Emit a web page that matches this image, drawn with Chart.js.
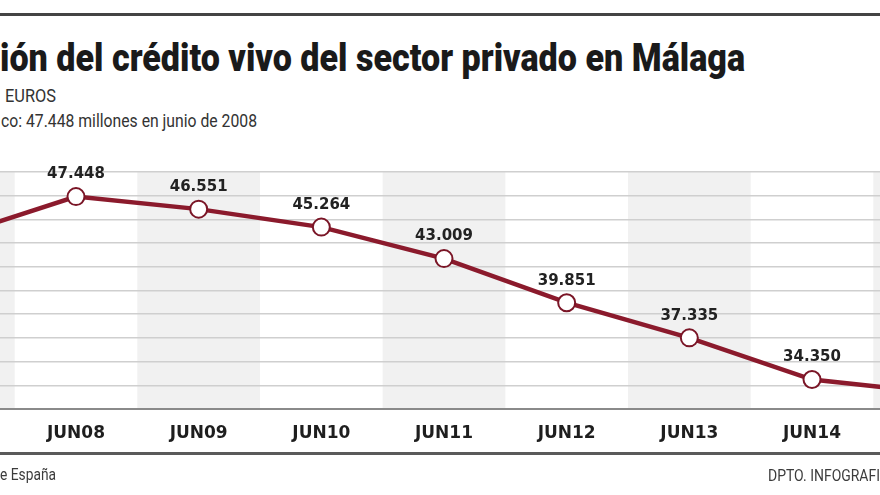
<!DOCTYPE html>
<html>
<head>
<meta charset="utf-8">
<script src="https://cdn.jsdelivr.net/npm/chart.js@4"></script>
<style>
  html, body { margin: 0; padding: 0; background: #fff; }
  body { width: 880px; height: 495px; position: relative; overflow: hidden; font-family: Roboto, sans-serif; }
  .txt { position: absolute; white-space: nowrap; transform-origin: 0 0; display: inline-block; }
  #title { left: 0; top: 39px; font-size: 38px; line-height: 38px; font-weight: 900; color: #1a1a1a; }
  #unidad { left: 5px; top: 86px; font-size: 19px; line-height: 19px; color: #333; }
  #nota { left: 1px; top: 111px; font-size: 19px; line-height: 19px; color: #333; }
  #fuente { left: 0; top: 467px; font-size: 16px; line-height: 16px; color: #3c3c3c; }
  #firma { left: 768px; top: 468px; font-size: 16px; line-height: 16px; color: #3c3c3c; }
  .rule { position: absolute; left: 0; width: 880px; }
  #wrap { position: absolute; left: -108px; top: 0; width: 1104px; height: 495px; }
</style>
</head>
<body>
<div class="rule" style="top:13px;height:3px;background:#444;"></div>
<div class="txt" id="title">ión del crédito vivo del sector privado en Málaga</div>
<div class="txt" id="unidad">EUROS</div>
<div class="txt" id="nota">co: 47.448 millones en junio de 2008</div>
<div id="wrap"><canvas id="chart"></canvas></div>
<div class="rule" style="top:452px;height:3px;background:#5a5a5a;"></div>
<div class="txt" id="fuente">e España</div>
<div class="txt" id="firma">DPTO. INFOGRAFI</div>
<script>
// datos (millones de euros); JUN07 y JUN15 quedan fuera del recorte
const meses = ['JUN07', 'JUN08', 'JUN09', 'JUN10', 'JUN11', 'JUN12', 'JUN13', 'JUN14', 'JUN15'];
const credito = [44600, 47448, 46551, 45264, 43009, 39851, 37335, 34350, 33400];
// escala vertical (rejilla de 10 franjas)
const yMin = 32240;
const yMax = 49210;
const yStep = 1697;

function fmt(v) {
    return String(v).replace(/\B(?=(\d{3})+(?!\d))/g, '.');
}

// franjas grises en columnas alternas
const bandas = {
    id: 'bandas',
    beforeDraw(chart) {
        const { ctx, chartArea, scales } = chart;
        const x = scales.x;
        const w = x.getPixelForValue(1) - x.getPixelForValue(0);
        ctx.save();
        ctx.fillStyle = '#f1f1f1';
        meses.forEach((m, i) => {
            if (i % 2 === 0) {
                const cx = x.getPixelForValue(i);
                ctx.fillRect(cx - w / 2, chartArea.top, w, chartArea.bottom - chartArea.top);
            }
        });
        ctx.restore();
    }
};

// etiquetas de valor sobre cada punto
const etiquetas = {
    id: 'etiquetas',
    afterDatasetsDraw(chart) {
        const { ctx } = chart;
        const meta = chart.getDatasetMeta(0);
        ctx.save();
        ctx.font = 'bold 15px "DejaVu Sans"';
        ctx.fillStyle = '#222';
        ctx.textAlign = 'center';
        ctx.textBaseline = 'middle';
        meta.data.forEach((pt, i) => {
            ctx.fillText(fmt(credito[i]), pt.x, pt.y - 22);
        });
        ctx.restore();
    }
};

const ctx = document.getElementById('chart').getContext('2d');
new Chart(ctx, {
    type: 'line',
    data: {
        labels: meses,
        datasets: [{
            data: credito,
            borderColor: '#8b1a2c',
            borderWidth: 4.5,
            tension: 0,
            pointRadius: 8.5,
            pointBorderWidth: 2,
            pointBackgroundColor: '#ffffff',
            pointBorderColor: '#7a1526',
            clip: false
        }]
    },
    options: {
        responsive: true,
        maintainAspectRatio: false,
        animation: false,
        events: [],
        layout: { autoPadding: false, padding: { top: 172, bottom: 40, left: 0, right: 0 } },
        plugins: { legend: { display: false }, tooltip: { enabled: false } },
        scales: {
            x: {
                offset: true,
                grid: { display: false },
                border: { display: true, color: '#8a8a8a', width: 2 },
                ticks: {
                    padding: 6,
                    color: '#1e1e1e',
                    font: { family: 'DejaVu Sans', weight: 'bold', size: 17 },
                    maxRotation: 0,
                    autoSkip: false
                },
                afterFit(scale) { scale.height = 46; }
            },
            y: {
                min: yMin,
                max: yMax,
                ticks: { display: false, stepSize: yStep },
                grid: { color: '#cfcfcf', lineWidth: 1.5, drawTicks: false },
                border: { display: false },
                afterFit(scale) { scale.width = 0; }
            }
        }
    },
    plugins: [bandas, etiquetas]
});

// ajuste horizontal de los textos al ancho del original
function fit(id, w) {
    const el = document.getElementById(id);
    const nat = el.getBoundingClientRect().width;
    el.style.transform = 'scaleX(' + (w / nat) + ')';
}
fit('title', 745);
fit('unidad', 51);
fit('nota', 256);
fit('fuente', 56);
fit('firma', 112);
</script>
</body>
</html>
